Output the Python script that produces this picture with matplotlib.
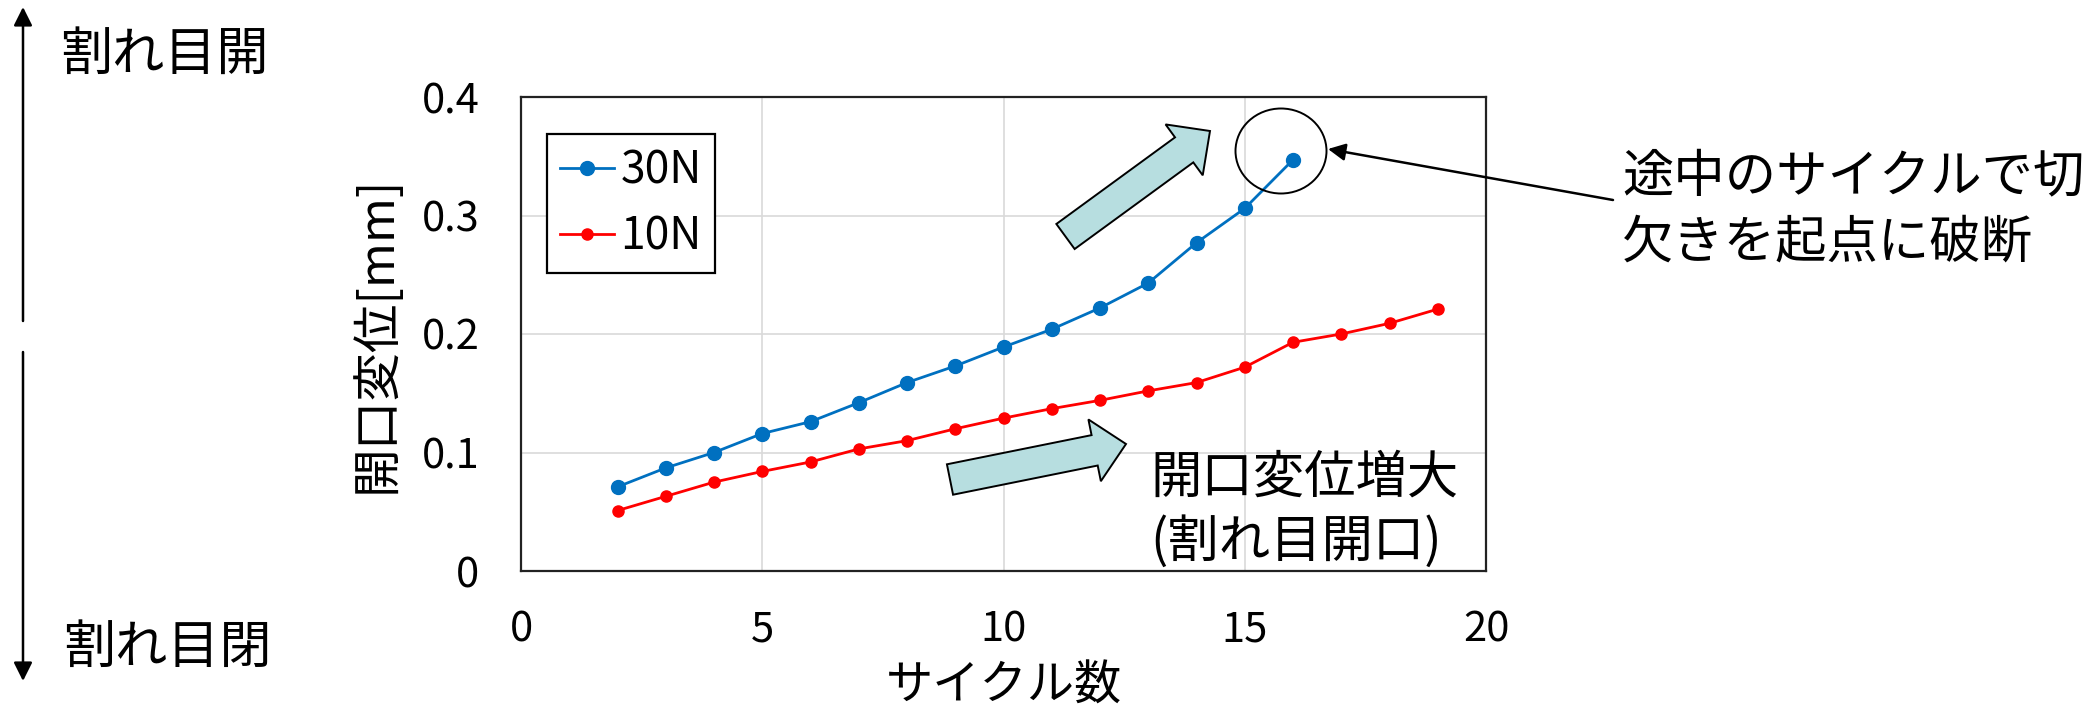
import numpy as np
import matplotlib
matplotlib.use('Agg')
import matplotlib.pyplot as plt
from matplotlib.patches import FancyArrow, Ellipse
from matplotlib.ticker import FuncFormatter

plt.rcParams['font.family'] = ['Noto Sans CJK JP', 'DejaVu Sans']

# Crack opening displacement per cycle
cycles_30n = [2, 3, 4, 5, 6, 7, 8, 9, 10, 11, 12, 13, 14, 15, 16]
disp_30n = [0.071, 0.087, 0.100, 0.116, 0.126, 0.142, 0.159, 0.173, 0.189,
            0.204, 0.222, 0.243, 0.277, 0.306, 0.347]

cycles_10n = [2, 3, 4, 5, 6, 7, 8, 9, 10, 11, 12, 13, 14, 15, 16, 17, 18, 19]
disp_10n = [0.051, 0.063, 0.075, 0.084, 0.092, 0.103, 0.110, 0.120, 0.129,
            0.137, 0.144, 0.152, 0.159, 0.172, 0.193, 0.200, 0.209, 0.221]

labels = ['30N', '10N']
x_ticks = [0, 5, 10, 15, 20]
y_ticks = [0, 0.1, 0.2, 0.3, 0.4]

W, H = 2095, 724
fig = plt.figure(figsize=(W / 100, H / 100), dpi=100)

ax = fig.add_axes([521 / W, 1 - 571 / H, 965 / W, 474 / H])
ax.plot(cycles_30n, disp_30n, '-o', color='#0070C0', lw=2.0, ms=10,
        label=labels[0], zorder=3)
ax.plot(cycles_10n, disp_10n, '-o', color='#FF0000', lw=2.0, ms=8,
        label=labels[1], zorder=3)

ax.set_xlim(0, 20)
ax.set_ylim(0, 0.4)
ax.set_xticks(x_ticks)
ax.set_yticks(y_ticks)
ax.yaxis.set_major_formatter(FuncFormatter(lambda v, p: '0' if v == 0 else f'{v:.1f}'))
ax.tick_params(length=0, labelsize=30)
ax.tick_params(axis='y', pad=30)
ax.tick_params(axis='x', pad=28)
ax.grid(True, color='#D9D9D9', lw=1.2)
ax.set_axisbelow(True)
for s in ax.spines.values():
    s.set_color('#222222')
    s.set_linewidth(1.6)

ax.set_xlabel('サイクル数', fontsize=34, labelpad=8)
ax.set_ylabel('開口変位[mm]', fontsize=35, labelpad=14)

leg = ax.legend(loc='upper left', bbox_to_anchor=(0.027, 0.922), borderaxespad=0,
                fontsize=32, fancybox=False, edgecolor='black', framealpha=1,
                handlelength=1.2, handletextpad=0.15, borderpad=0.3,
                labelspacing=0.45)
leg.get_frame().set_linewidth(1.6)

# overlay in pixel coordinates for the annotations
ov = fig.add_axes([0, 0, 1, 1], zorder=5)
ov.set_xlim(0, W)
ov.set_ylim(H, 0)
ov.axis('off')
ov.patch.set_alpha(0)

# open / close direction arrows on the left
ov.annotate('', xy=(23, 7), xytext=(23, 321),
            arrowprops=dict(arrowstyle='-|>', color='black', lw=1.8,
                            mutation_scale=28, shrinkA=0, shrinkB=0))
ov.annotate('', xy=(23, 681), xytext=(23, 352),
            arrowprops=dict(arrowstyle='-|>', color='black', lw=1.8,
                            mutation_scale=28, shrinkA=0, shrinkB=0))
ov.text(60, 55, '割れ目開', fontsize=37.5, ha='left', va='center')
ov.text(63, 648, '割れ目閉', fontsize=37.5, ha='left', va='center')

# block arrows showing the trend
block = dict(width=31, head_width=63, head_length=32, length_includes_head=True,
             facecolor='#B7DEE0', edgecolor='black', lw=1.4)
ov.add_patch(FancyArrow(1065.5, 236.5, 144.5, -105.5, **block))
ov.add_patch(FancyArrow(950, 479.5, 176, -35.5, **block))

# fracture callout
ov.add_patch(Ellipse((1281, 151), 91, 85, fill=False, edgecolor='black', lw=1.4))
ov.annotate('', xy=(1328, 149), xytext=(1613, 200),
            arrowprops=dict(arrowstyle='-|>', color='black', lw=1.8,
                            mutation_scale=26, shrinkA=0, shrinkB=0))
ov.text(1622, 210, '途中のサイクルで切\n欠きを起点に破断', fontsize=37,
        ha='left', va='center', linespacing=1.3)

ov.text(1150, 510, '開口変位増大\n(割れ目開口)', fontsize=37,
        ha='left', va='center', linespacing=1.27)

fig.savefig('out.png', dpi=100)
